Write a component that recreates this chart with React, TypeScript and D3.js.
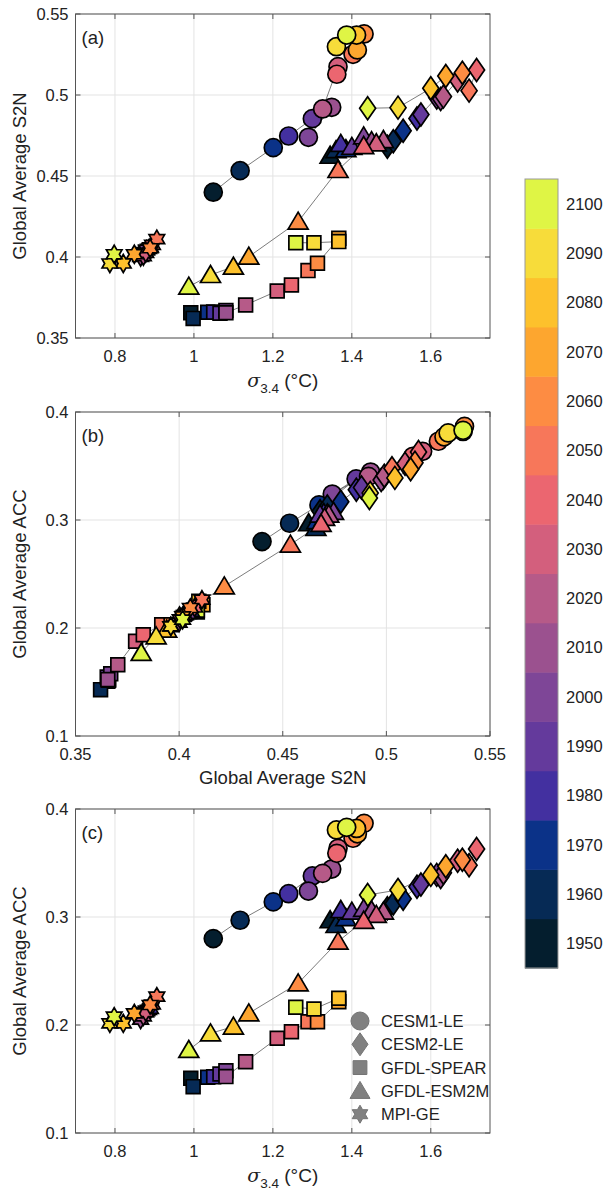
import React from "react";
import * as d3 from "d3";

// ---------------- DATA ----------------
const years = [1950, 1960, 1970, 1980, 1990, 2000, 2010, 2020, 2030, 2040, 2050, 2060, 2070, 2080, 2090, 2100];
const yearColors = [
  "#041e2e", "#062a55", "#0b3288", "#4330a0", "#643a9c", "#7e4697", "#9b518f", "#b65a88",
  "#d35f7d", "#eb6670", "#f7775a", "#fd8c43", "#fda62f", "#fdc12c", "#f7dc3a", "#dff545",
];
const colorbarTicks = [1950, 1960, 1970, 1980, 1990, 2000, 2010, 2020, 2030, 2040, 2050, 2060, 2070, 2080, 2090, 2100];

const modelNames = ["CESM1-LE", "CESM2-LE", "GFDL-SPEAR", "GFDL-ESM2M", "MPI-GE"];
const modelShapes = ["circle", "diamond", "square", "triangle", "hexagram"];

const cesm1Sigma = [1.049, 1.117, 1.201, 1.240, 1.300, 1.290, 1.349, 1.326, 1.365, 1.362, 1.403, 1.431, 1.414, 1.412, 1.361, 1.387];
const cesm1S2N = [0.440, 0.4533, 0.4675, 0.4747, 0.4854, 0.4739, 0.4924, 0.4914, 0.5175, 0.5128, 0.5251, 0.5377, 0.5278, 0.537, 0.5298, 0.537];
const cesm1ACC = [0.280, 0.297, 0.314, 0.3216, 0.338, 0.324, 0.3444, 0.3404, 0.3636, 0.359, 0.3729, 0.3867, 0.377, 0.382, 0.3806, 0.383];

const cesm2Sigma = [1.49, 1.505, 1.53, 1.565, 1.575, 1.615, 1.625, 1.632, 1.668, 1.716, 1.697, 1.68, 1.638, 1.60, 1.517, 1.44];
const cesm2S2N = [0.468, 0.4715, 0.478, 0.4855, 0.488, 0.4985, 0.4975, 0.499, 0.509, 0.5155, 0.5027, 0.5138, 0.5117, 0.5041, 0.4922, 0.4918];
const cesm2ACC = [0.308, 0.3125, 0.317, 0.328, 0.330, 0.339, 0.337, 0.341, 0.352, 0.363, 0.348, 0.353, 0.347, 0.339, 0.325, 0.3204];

const spearSigma = [0.992, 0.998, 1.035, 1.050, 1.066, 1.081, 1.081, 1.131, 1.211, 1.247, 1.289, 1.313, 1.367, 1.367, 1.304, 1.258];
const spearS2N = [0.3656, 0.3621, 0.3659, 0.366, 0.3653, 0.367, 0.3656, 0.3704, 0.379, 0.3827, 0.3916, 0.3961, 0.4115, 0.4095, 0.4088, 0.4088];
const spearACC = [0.1506, 0.1429, 0.1516, 0.152, 0.1546, 0.1577, 0.1522, 0.166, 0.1877, 0.1938, 0.203, 0.203, 0.2215, 0.2247, 0.2148, 0.2164];

const esmSigma = [1.345, 1.36, 1.385, 1.372, 1.40, 1.43, 1.45, 1.48, 1.462, 1.43, 1.365, 1.264, 1.139, 1.10, 1.042, 0.987];
const esmS2N = [0.4625, 0.466, 0.4665, 0.4698, 0.468, 0.4745, 0.4715, 0.4722, 0.4702, 0.4685, 0.4537, 0.4218, 0.4002, 0.394, 0.3889, 0.3817];
const esmACC = [0.297, 0.2926, 0.299, 0.3065, 0.305, 0.3075, 0.306, 0.305, 0.302, 0.2965, 0.2772, 0.2386, 0.2108, 0.1985, 0.1923, 0.1769];

const mpiSigma = [0.88, 0.885, 0.875, 0.89, 0.87, 0.88, 0.865, 0.872, 0.878, 0.895, 0.906, 0.889, 0.849, 0.821, 0.787, 0.798];
const mpiS2N = [0.404, 0.405, 0.403, 0.406, 0.402, 0.4045, 0.400, 0.4005, 0.4025, 0.4075, 0.411, 0.4054, 0.4017, 0.396, 0.396, 0.4017];
const mpiACC = [0.213, 0.214, 0.212, 0.215, 0.211, 0.213, 0.205, 0.208, 0.212, 0.219, 0.2262, 0.2185, 0.2108, 0.2015, 0.2015, 0.2077];

const sigmaTicks = [0.8, 1.0, 1.2, 1.4, 1.6];
const s2nTicks = [0.35, 0.4, 0.45, 0.5, 0.55];
const accTicks = [0.1, 0.2, 0.3, 0.4];

// ---------------- LAYOUT ----------------
const W = 609;
const H = 1195;
const LEFT = 75.5;
const RIGHT = 490;
const FONT = "'Liberation Sans', Arial, sans-serif";
const TXT = "#222";

const models = [
  { sigma: cesm1Sigma, s2n: cesm1S2N, acc: cesm1ACC },
  { sigma: cesm2Sigma, s2n: cesm2S2N, acc: cesm2ACC },
  { sigma: spearSigma, s2n: spearS2N, acc: spearACC },
  { sigma: esmSigma, s2n: esmS2N, acc: esmACC },
  { sigma: mpiSigma, s2n: mpiS2N, acc: mpiACC },
];

const fmt = (v: number) => String(+v.toFixed(2));

function markerPath(shape: string, k = 1): string {
  if (shape === "circle") {
    const r = 9 * k;
    return `M${r},0A${r},${r},0,1,1,${-r},0A${r},${r},0,1,1,${r},0Z`;
  }
  if (shape === "diamond") {
    const w = 8 * k, h = 11.5 * k;
    return `M0,${-h}L${w},0L0,${h}L${-w},0Z`;
  }
  if (shape === "square") {
    const s = 6.9 * k;
    return `M${-s},${-s}L${s},${-s}L${s},${s}L${-s},${s}Z`;
  }
  if (shape === "triangle") {
    const w = 20 * k, h = 17 * k;
    return `M0,${-h / 2 - 1}L${w / 2},${h / 2 - 1}L${-w / 2},${h / 2 - 1}Z`;
  }
  // hexagram
  const R = 9 * k, r = R / Math.sqrt(3);
  const pts: string[] = [];
  for (let i = 0; i < 12; i++) {
    const a = -Math.PI / 2 + (i * Math.PI) / 6;
    const rr = i % 2 === 0 ? R : r;
    pts.push(`${(rr * Math.cos(a)).toFixed(2)},${(rr * Math.sin(a)).toFixed(2)}`);
  }
  return "M" + pts.join("L") + "Z";
}

type PanelProps = {
  top: number;
  bottom: number;
  xDomain: [number, number];
  yDomain: [number, number];
  xTicks: number[];
  yTicks: number[];
  xKey: "sigma" | "s2n";
  yKey: "s2n" | "acc";
  letter: string;
  yLabel: string;
  xLabel: React.ReactNode;
  legend?: boolean;
};

function Panel(p: PanelProps) {
  const x = d3.scaleLinear().domain(p.xDomain).range([LEFT, RIGHT]);
  const y = d3.scaleLinear().domain(p.yDomain).range([p.bottom, p.top]);
  const line = d3.line<[number, number]>().x((d) => x(d[0])).y((d) => y(d[1]));
  const tl = 5;
  return (
    <g>
      <rect x={LEFT} y={p.top} width={RIGHT - LEFT} height={p.bottom - p.top} fill="#fff" />
      {p.xTicks.map((t) => (
        <line key={"gx" + t} x1={x(t)} x2={x(t)} y1={p.top} y2={p.bottom} stroke="#e3e3e3" strokeWidth={1} />
      ))}
      {p.yTicks.map((t) => (
        <line key={"gy" + t} x1={LEFT} x2={RIGHT} y1={y(t)} y2={y(t)} stroke="#e3e3e3" strokeWidth={1} />
      ))}
      {p.xTicks.map((t) => (
        <g key={"tx" + t}>
          <line x1={x(t)} x2={x(t)} y1={p.bottom} y2={p.bottom - tl} stroke="#555" />
          <line x1={x(t)} x2={x(t)} y1={p.top} y2={p.top + tl} stroke="#555" />
          <text x={x(t)} y={p.bottom + 24} textAnchor="middle" fontSize={16.5} fill={TXT} fontFamily={FONT}>
            {fmt(t)}
          </text>
        </g>
      ))}
      {p.yTicks.map((t) => (
        <g key={"ty" + t}>
          <line x1={LEFT} x2={LEFT + tl} y1={y(t)} y2={y(t)} stroke="#555" />
          <line x1={RIGHT} x2={RIGHT - tl} y1={y(t)} y2={y(t)} stroke="#555" />
          <text x={LEFT - 7} y={y(t) + 5.5} textAnchor="end" fontSize={16.5} fill={TXT} fontFamily={FONT}>
            {fmt(t)}
          </text>
        </g>
      ))}
      {models.map((m, mi) => (
        <path
          key={"l" + mi}
          d={line(m[p.xKey].map((v, i) => [v, m[p.yKey][i]] as [number, number])) || ""}
          fill="none"
          stroke="#444"
          strokeWidth={0.7}
        />
      ))}
      {models.map((m, mi) => (
        <g key={"m" + mi}>
          {years.map((yr, i) => (
            <path
              key={yr}
              d={markerPath(modelShapes[mi])}
              transform={`translate(${x(m[p.xKey][i])},${y(m[p.yKey][i])})`}
              fill={yearColors[i]}
              stroke="#000"
              strokeWidth={1.7}
              strokeLinejoin="miter"
            />
          ))}
        </g>
      ))}
      <rect x={LEFT} y={p.top} width={RIGHT - LEFT} height={p.bottom - p.top} fill="none" stroke="#555" strokeWidth={1} />
      <text x={LEFT + 6} y={p.top + 30} fontSize={18.5} fill={TXT} fontFamily={FONT}>
        {p.letter}
      </text>
      <text
        transform={`translate(26,${(p.top + p.bottom) / 2}) rotate(-90)`}
        textAnchor="middle"
        fontSize={18.5}
        fill={TXT}
        fontFamily={FONT}
      >
        {p.yLabel}
      </text>
      {p.xLabel}
      {p.legend && (
        <g>
          {modelNames.map((name, i) => {
            const ly = 1021 + i * 23.3;
            return (
              <g key={name}>
                <path d={markerPath(modelShapes[i])} transform={`translate(360,${ly})`} fill="#808080" stroke="#737373" strokeWidth={1} />
                <text x={381} y={ly + 6} fontSize={16.5} fill={TXT} fontFamily={FONT}>
                  {name}
                </text>
              </g>
            );
          })}
        </g>
      )}
    </g>
  );
}

function SigmaLabel({ baseline }: { baseline: number }) {
  return (
    <text x={(LEFT + RIGHT) / 2} y={baseline} textAnchor="middle" fontSize={19} fill={TXT} fontFamily={FONT}>
      <tspan fontStyle="italic" fontFamily="'DejaVu Serif', serif">σ</tspan>
      <tspan fontSize={13.5} dy={6}>3.4</tspan>
      <tspan dy={-6}> (°C)</tspan>
    </text>
  );
}

function Colorbar() {
  const x0 = 525, x1 = 558;
  const cy = d3.scaleLinear().domain([1945, 2105]).range([968, 179]);
  return (
    <g>
      {years.map((yr, i) => (
        <rect key={yr} x={x0} y={cy(yr + 5)} width={x1 - x0} height={cy(yr - 5) - cy(yr + 5) + 0.5} fill={yearColors[i]} />
      ))}
      <rect x={x0} y={cy(2105)} width={x1 - x0} height={cy(1945) - cy(2105)} fill="none" stroke="#999" strokeWidth={1} />
      {colorbarTicks.map((t) => (
        <text key={t} x={566} y={cy(t) + 6} fontSize={16.5} fill={TXT} fontFamily={FONT}>
          {t}
        </text>
      ))}
    </g>
  );
}

export default function App() {
  return (
    <svg width={W} height={H} style={{ position: "absolute", left: 0, top: 0, background: "#fff" }}>
      <rect width={W} height={H} fill="#fff" />
      <Panel
        top={14}
        bottom={338}
        xDomain={[0.7, 1.75]}
        yDomain={[0.35, 0.55]}
        xTicks={sigmaTicks}
        yTicks={s2nTicks}
        xKey="sigma"
        yKey="s2n"
        letter="(a)"
        yLabel="Global Average S2N"
        xLabel={<SigmaLabel baseline={387} />}
      />
      <Panel
        top={412}
        bottom={736}
        xDomain={[0.35, 0.55]}
        yDomain={[0.1, 0.4]}
        xTicks={s2nTicks}
        yTicks={accTicks}
        xKey="s2n"
        yKey="acc"
        letter="(b)"
        yLabel="Global Average ACC"
        xLabel={
          <text x={(LEFT + RIGHT) / 2} y={784} textAnchor="middle" fontSize={18.5} fill={TXT} fontFamily={FONT}>
            Global Average S2N
          </text>
        }
      />
      <Panel
        top={809}
        bottom={1133}
        xDomain={[0.7, 1.75]}
        yDomain={[0.1, 0.4]}
        xTicks={sigmaTicks}
        yTicks={accTicks}
        xKey="sigma"
        yKey="acc"
        letter="(c)"
        yLabel="Global Average ACC"
        xLabel={<SigmaLabel baseline={1182} />}
        legend
      />
      <Colorbar />
    </svg>
  );
}
